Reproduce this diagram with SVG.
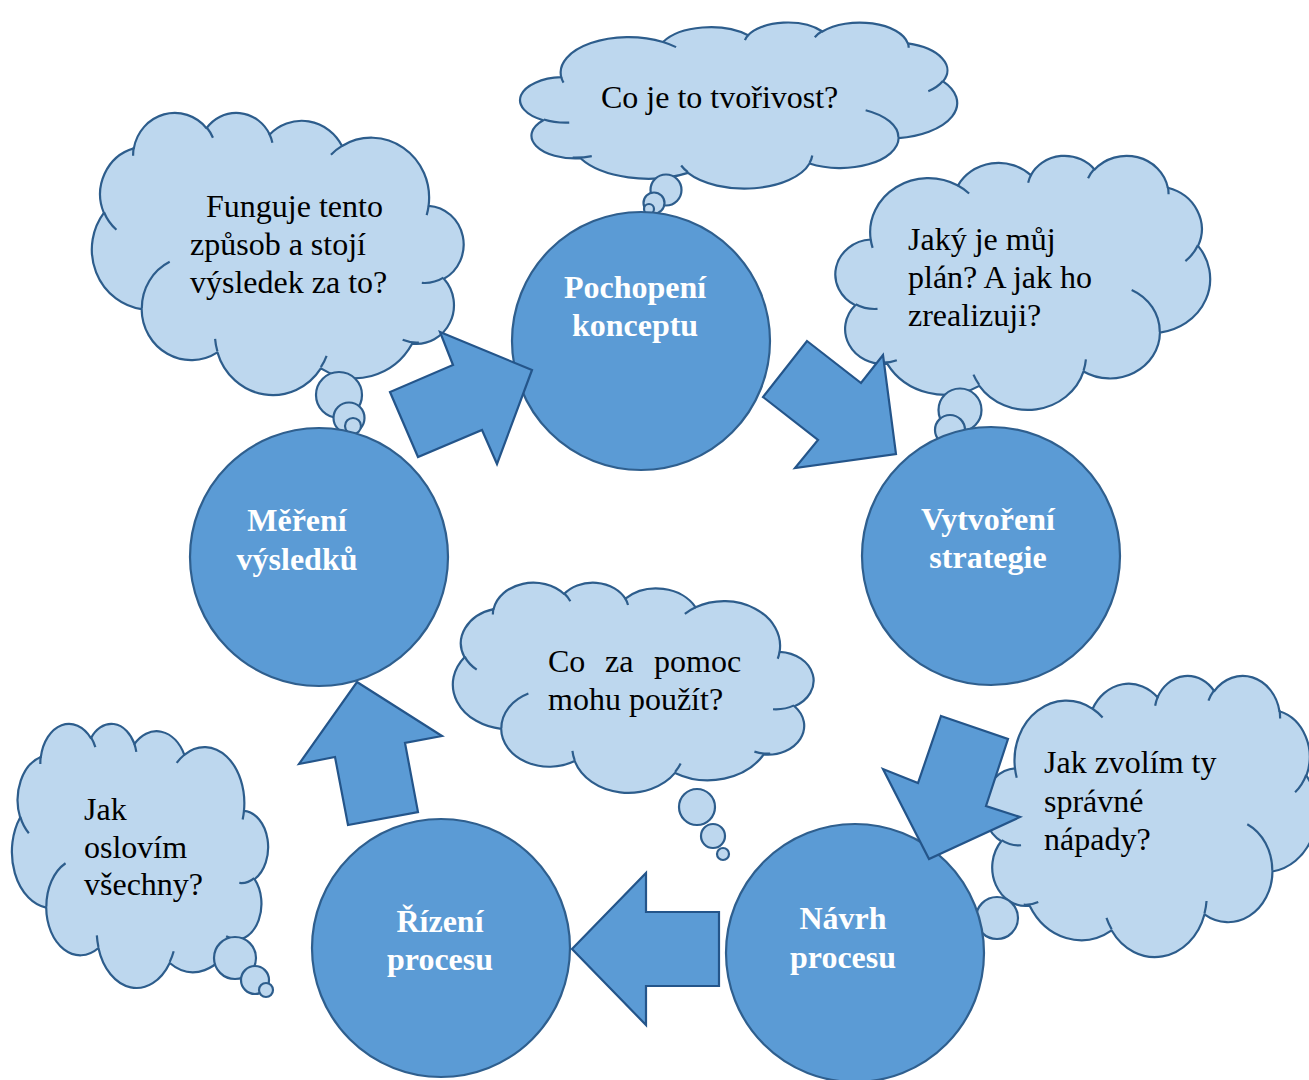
<svg xmlns="http://www.w3.org/2000/svg" xmlns:xlink="http://www.w3.org/1999/xlink" width="1309" height="1080" viewBox="0 0 1309 1080">
<style>
.cloud{fill:#BDD7EE;stroke:#2D5D8C;stroke-width:2.2;stroke-linejoin:round}
.inner{fill:none;stroke:#2D5D8C;stroke-width:2.2}
.bub{fill:#BDD7EE;stroke:#2D5D8C;stroke-width:2.2}
.node{fill:#5B9BD5;stroke:#2F5F8E;stroke-width:2.2}
.arrow{fill:#5B9BD5;stroke:#24558A;stroke-width:2.2;stroke-linejoin:miter}
.ct{font-family:"Liberation Serif","Times New Roman",serif;font-size:32px;fill:#000}
.nt{font-family:"Liberation Serif","Times New Roman",serif;font-size:32px;font-weight:bold;fill:#fff;text-anchor:middle}
</style>
<defs>
<path id="cloudOuter" vector-effect="non-scaling-stroke" d="M9.03,33.26 A15.63,21.27 0 0 1 32.42,12.04 A12.34,16.82 0 0 1 51.98,7.95 A10.10,13.76 0 0 1 69.06,5.74 A11.24,15.27 0 0 1 88.70,12.91 A12.34,16.84 0 0 1 96.80,35.79 A15.68,21.34 0 0 1 86.58,69.92 A13.39,18.21 0 0 1 66.10,85.22 A15.63,21.33 0 0 1 38.15,90.90 A17.87,24.41 0 0 1 13.44,82.11 A10.09,13.70 0 0 1 4.89,59.15 A10.06,13.76 0 0 1 9.03,33.26 Z"/>
<path id="cloudInner" vector-effect="non-scaling-stroke" d="M10.86,60.59 A10.06,13.76 0 0 1 5.00,58.75 M16.04,80.78 A10.09,13.70 0 0 1 11.65,81.73 M38.14,90.49 A15.63,21.33 0 0 1 36.59,86.45 M66.73,80.44 A15.63,21.33 0 0 1 66.11,84.86 M79.00,53.13 A13.39,18.21 0 0 1 86.53,69.65 M96.75,35.54 A12.34,16.84 0 0 1 93.40,41.74 M88.71,12.56 A11.24,15.27 0 0 1 88.89,15.49 M67.31,9.15 A11.24,15.27 0 0 1 69.03,5.41 M51.25,10.93 A10.10,13.76 0 0 1 52.08,7.71 M32.41,12.02 A15.63,21.27 0 0 1 35.42,15.14 M9.55,36.55 A15.63,21.27 0 0 1 9.03,33.26"/>
</defs>

<g id="cloud-funguje">
<g transform="translate(462,112) scale(-3.70,2.82)"><use href="#cloudOuter" class="cloud"/><use href="#cloudInner" class="inner"/></g>
<circle class="bub" cx="339" cy="395" r="23"/>
<circle class="bub" cx="349" cy="418" r="15.5"/>
<circle class="bub" cx="353" cy="426" r="8"/>
<text class="ct"><tspan x="206" y="217">Funguje tento</tspan><tspan x="190" y="255">způsob a stojí</tspan><tspan x="190" y="293">výsledek za to?</tspan></text>
</g>

<g id="cloud-tvorivost">
<g transform="translate(522,22) scale(4.35,1.66)"><use href="#cloudOuter" class="cloud"/><use href="#cloudInner" class="inner"/></g>
<circle class="bub" cx="666" cy="190" r="15.5"/>
<circle class="bub" cx="654" cy="203" r="10.5"/>
<circle class="bub" cx="649" cy="209" r="5"/>
<text class="ct" x="601" y="108">Co je to tvořivost?</text>
</g>

<g id="cloud-plan">
<g transform="translate(837,155) scale(3.73,2.54)"><use href="#cloudOuter" class="cloud"/><use href="#cloudInner" class="inner"/></g>
<circle class="bub" cx="960" cy="410" r="21.5"/>
<circle class="bub" cx="950" cy="430" r="15"/>
<text class="ct"><tspan x="908" y="250">Jaký je můj</tspan><tspan x="908" y="288">plán? A jak ho</tspan><tspan x="908" y="326">zrealizuji?</tspan></text>
</g>

<g id="cloud-napady">
<g transform="translate(985,675) scale(3.32,2.81)"><use href="#cloudOuter" class="cloud"/><use href="#cloudInner" class="inner"/></g>
<circle class="bub" cx="997" cy="918" r="21"/>
<text class="ct"><tspan x="1044" y="773">Jak zvolím ty</tspan><tspan x="1044" y="812">správné</tspan><tspan x="1044" y="850">nápady?</tspan></text>
</g>

<g id="cloud-vsechny">
<g transform="translate(267,723) scale(-2.55,2.64)"><use href="#cloudOuter" class="cloud"/><use href="#cloudInner" class="inner"/></g>
<circle class="bub" cx="235" cy="958" r="21"/>
<circle class="bub" cx="255" cy="980" r="14"/>
<circle class="bub" cx="266" cy="990" r="7"/>
<text class="ct"><tspan x="84" y="820">Jak</tspan><tspan x="84" y="858">oslovím</tspan><tspan x="84" y="895">všechny?</tspan></text>
</g>

<g id="cloud-pomoc">
<g transform="translate(812,582) scale(-3.59,2.10)"><use href="#cloudOuter" class="cloud"/><use href="#cloudInner" class="inner"/></g>
<circle class="bub" cx="697" cy="807" r="18"/>
<circle class="bub" cx="713" cy="836" r="12"/>
<circle class="bub" cx="723" cy="854" r="6"/>
<text class="ct"><tspan x="548" y="672">Co</tspan><tspan x="605" y="672">za</tspan><tspan x="654" y="672">pomoc</tspan><tspan x="548" y="710">mohu použít?</tspan></text>
</g>

<g id="node-pochopeni">
<circle class="node" cx="641" cy="341" r="129"/>
<text class="nt"><tspan x="635" y="298">Pochopení</tspan><tspan x="635" y="336">konceptu</tspan></text>
</g>
<g id="node-vytvoreni">
<circle class="node" cx="991" cy="556" r="129"/>
<text class="nt"><tspan x="988" y="530">Vytvoření</tspan><tspan x="988" y="568">strategie</tspan></text>
</g>
<g id="node-navrh">
<circle class="node" cx="855" cy="953" r="129"/>
<text class="nt"><tspan x="843" y="929">Návrh</tspan><tspan x="843" y="968">procesu</tspan></text>
</g>
<g id="node-rizeni">
<circle class="node" cx="441" cy="948" r="129"/>
<text class="nt"><tspan x="440" y="932">Řízení</tspan><tspan x="440" y="970">procesu</tspan></text>
</g>
<g id="node-mereni">
<circle class="node" cx="319" cy="557" r="129"/>
<text class="nt"><tspan x="297" y="531">Měření</tspan><tspan x="297" y="570">výsledků</tspan></text>
</g>

<g id="connectors">
<polygon class="arrow" points="532,370 440,332 453,365 390,392 418,457 482,430 497,464"/>
<polygon class="arrow" points="807,341 861,383 883,355 896,454 795,468 818,440 763,397"/>
<polygon class="arrow" points="941,716 1008,739 986,806 1020,817 929,859 883,769 918,783"/>
<polygon class="arrow" points="572,949 646,873 646,912 719,912 719,986 646,986 646,1025"/>
<polygon class="arrow" points="357,682 442,736 405,743 418,812 348,825 335,757 299,764"/>
</g>
</svg>
